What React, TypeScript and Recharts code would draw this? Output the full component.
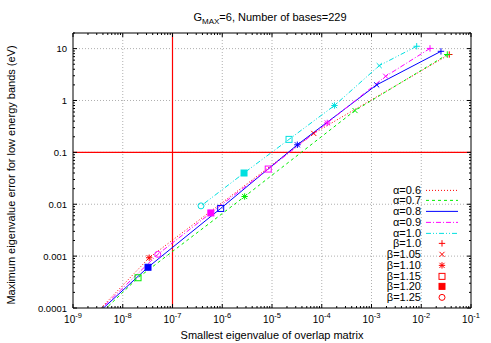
import { Legend, Line, LineChart, ReferenceLine, XAxis, YAxis } from 'recharts';

const BETAS = ['1.0', '1.05', '1.10', '1.15', '1.20', '1.25'];
const ALPHAS = ['0.6', '0.7', '0.8', '0.9', '1.0'];

// smallest overlap eigenvalue / max error, beta ascending; a trailing extra point is where the curve leaves the plot
const EIG_A06 = [3.66e-2, 6.9e-5, 3.4e-8, 3.66e-9];
const ERR_A06 = [7.7, 0.232, 9.3e-4, 1e-4];
const EIG_A07 = [3.34e-2, 4.66e-4, 2.82e-6, 2.03e-8, 4.7e-9];
const ERR_A07 = [7.7, 0.64, 0.0141, 3.83e-4, 1e-4];
const EIG_A08 = [2.49e-2, 1.27e-3, 3.23e-5, 9.3e-7, 3.22e-8, 4.1e-9];
const ERR_A08 = [8.87, 2.0, 0.14, 8.3e-3, 6.1e-4, 1e-4];
const EIG_A09 = [1.5e-2, 1.93e-3, 1.29e-4, 8.4e-6, 5.9e-7, 5.05e-8, 3.83e-9];
const ERR_A09 = [10.1, 2.93, 0.369, 0.0477, 6.8e-3, 1.08e-3, 1e-4];
const EIG_A10 = [8.1e-3, 1.43e-3, 1.8e-4, 2.2e-5, 2.74e-6, 3.74e-7];
const ERR_A10 = [11.1, 4.7, 0.8, 0.178, 0.04, 9.3e-3];
const MARKED = [3, 4, 5, 6, 6];

const X_MAJOR = [1e-9, 1e-8, 1e-7, 1e-6, 1e-5, 1e-4, 1e-3, 1e-2, 1e-1];
const Y_MAJOR = [1e-4, 1e-3, 1e-2, 1e-1, 1, 10];
const Y_LABELS = ['0.0001', '0.001', '0.01', '0.1', '1', '10'];
const X_LIMIT = 1e-7;
const Y_LIMIT = 0.1;

const COLORS = ['#ff0000', '#00ee00', '#0000ff', '#ff00ff', '#00e0e0'];
const DASHES = ['1 2', '3 3', undefined, '5 2 1 2', '5 2 1 2 1 2'];

const minors = (majors: number[], top: number) =>
  majors.flatMap((d) => [2, 3, 4, 5, 6, 7, 8, 9].map((m) => d * m)).filter((v) => v <= top * 1.0001);
const X_TICKS = [...X_MAJOR, ...minors(X_MAJOR, 1e-1)];
const Y_TICKS = [...Y_MAJOR, ...minors(Y_MAJOR, 20)];

const isMajor = (v: number) => Math.abs(Math.log10(v) - Math.round(Math.log10(v))) < 1e-6;

const series = [EIG_A06, EIG_A07, EIG_A08, EIG_A09, EIG_A10].map((eig, s) => {
  const err = [ERR_A06, ERR_A07, ERR_A08, ERR_A09, ERR_A10][s];
  return eig.map((x, i) => ({ x, y: err[i] }));
});

const Marker = ({ kind, x, y, color }: { kind: number; x: number; y: number; color: string }) => {
  const s = 3.2;
  const plus = (
    <>
      <line x1={x - s} x2={x + s} y1={y} y2={y} />
      <line x1={x} x2={x} y1={y - s} y2={y + s} />
    </>
  );
  const cross = (
    <>
      <line x1={x - s * 0.8} x2={x + s * 0.8} y1={y - s * 0.8} y2={y + s * 0.8} />
      <line x1={x - s * 0.8} x2={x + s * 0.8} y1={y + s * 0.8} y2={y - s * 0.8} />
    </>
  );
  if (kind === 0) return <g stroke={color}>{plus}</g>;
  if (kind === 1) return <g stroke={color}>{cross}</g>;
  if (kind === 2) return <g stroke={color}>{plus}{cross}</g>;
  if (kind === 3) return <rect x={x - 3} y={y - 3} width={6} height={6} fill="none" stroke={color} />;
  if (kind === 4) return <rect x={x - 3} y={y - 3} width={6} height={6} fill={color} stroke={color} />;
  return <circle cx={x} cy={y} r={3} fill="none" stroke={color} />;
};

const makeDot = (marked: number, color: string) => (props: any) => {
  const { cx, cy, index } = props;
  if (index >= marked || cx == null || cy == null) return <g key={`d${index}`} />;
  return <Marker key={`d${index}`} kind={index} x={cx} y={cy} color={color} />;
};

const tickLen = (v: number) => (isMajor(v) ? 4 : 2);

const BottomTick = ({ x, y, payload }: any) => {
  const v = payload.value;
  return (
    <g>
      <line x1={x} x2={x} y1={y} y2={y - tickLen(v)} stroke="#000" />
      {isMajor(v) && (
        <text x={x} y={y + 15} textAnchor="middle" fontSize={10} fill="#000">
          10<tspan dy={-5} fontSize={7.5}>{Math.round(Math.log10(v))}</tspan>
        </text>
      )}
    </g>
  );
};

const TopTick = ({ x, y, payload }: any) => (
  <line x1={x} x2={x} y1={y} y2={y + tickLen(payload.value)} stroke="#000" />
);

const LeftTick = ({ x, y, payload }: any) => {
  const v = payload.value;
  const idx = Y_MAJOR.findIndex((m) => Math.abs(Math.log10(m) - Math.log10(v)) < 1e-6);
  return (
    <g>
      <line x1={x} x2={x + tickLen(v)} y1={y} y2={y} stroke="#000" />
      {idx >= 0 && (
        <text x={x - 6} y={y + 3.5} textAnchor="end" fontSize={9.5} fill="#000">
          {Y_LABELS[idx]}
        </text>
      )}
    </g>
  );
};

const RightTick = ({ x, y, payload }: any) => (
  <line x1={x} x2={x - tickLen(payload.value)} y1={y} y2={y} stroke="#000" />
);

const ROW = 10.75;

const LegendRow = ({ label, children }: { label: string; children: any }) => (
  <div style={{ display: 'flex', alignItems: 'center', height: ROW }}>
    <span style={{ width: 61, textAlign: 'right', fontSize: 11, lineHeight: `${ROW}px` }}>{label}</span>
    <svg width={45} height={ROW} style={{ display: 'block' }}>
      {children}
    </svg>
  </div>
);

const LegendBox = () => (
  <div>
    {ALPHAS.map((a, i) => (
      <LegendRow key={a} label={`α=${a}`}>
        <line x1={5} x2={37} y1={ROW / 2} y2={ROW / 2} stroke={COLORS[i]} strokeDasharray={DASHES[i]} />
      </LegendRow>
    ))}
    {BETAS.map((b, i) => (
      <LegendRow key={b} label={`β=${b}`}>
        <Marker kind={i} x={21} y={ROW / 2} color="#ff0000" />
      </LegendRow>
    ))}
  </div>
);

const grid = { stroke: '#b0b0b0', strokeDasharray: '1 2', strokeWidth: 1 };

export default function App() {
  return (
    <div
      style={{
        position: 'absolute',
        left: 0,
        top: 0,
        width: 491,
        height: 343,
        background: '#fff',
        fontFamily: '"Liberation Sans", Arial, sans-serif',
      }}
    >
      <LineChart width={491} height={343} margin={{ top: 32, right: 19, bottom: 34, left: 72 }}>
        <XAxis
          xAxisId="b"
          dataKey="x"
          type="number"
          scale="log"
          domain={[1e-9, 1e-1]}
          allowDataOverflow
          ticks={X_TICKS}
          interval={0}
          height={1}
          tickSize={0}
          tickMargin={0}
          tickLine={false}
          axisLine={{ stroke: '#000' }}
          tick={BottomTick}
        />
        <XAxis
          xAxisId="t"
          orientation="top"
          dataKey="x"
          type="number"
          scale="log"
          domain={[1e-9, 1e-1]}
          allowDataOverflow
          ticks={X_TICKS}
          interval={0}
          height={1}
          tickSize={0}
          tickMargin={0}
          tickLine={false}
          axisLine={{ stroke: '#000' }}
          tick={TopTick}
        />
        <YAxis
          yAxisId="l"
          type="number"
          scale="log"
          domain={[1e-4, 20]}
          allowDataOverflow
          ticks={Y_TICKS}
          interval={0}
          width={1}
          tickSize={0}
          tickMargin={0}
          tickLine={false}
          axisLine={{ stroke: '#000' }}
          tick={LeftTick}
        />
        <YAxis
          yAxisId="r"
          orientation="right"
          type="number"
          scale="log"
          domain={[1e-4, 20]}
          allowDataOverflow
          ticks={Y_TICKS}
          interval={0}
          width={1}
          tickSize={0}
          tickMargin={0}
          tickLine={false}
          axisLine={{ stroke: '#000' }}
          tick={RightTick}
        />
        {X_MAJOR.slice(1, -1).map((v) => (
          <ReferenceLine key={`gx${v}`} xAxisId="b" yAxisId="l" x={v} {...grid} />
        ))}
        {Y_MAJOR.slice(1).map((v) => (
          <ReferenceLine key={`gy${v}`} xAxisId="b" yAxisId="l" y={v} {...grid} />
        ))}
        <ReferenceLine xAxisId="b" yAxisId="l" x={X_LIMIT} stroke="#ff0000" strokeWidth={1.2} />
        <ReferenceLine xAxisId="b" yAxisId="l" y={Y_LIMIT} stroke="#ff0000" strokeWidth={1.2} />
        {series.map((data, s) => (
          <Line
            key={ALPHAS[s]}
            xAxisId="b"
            yAxisId="l"
            data={data}
            dataKey="y"
            name={`α=${ALPHAS[s]}`}
            stroke={COLORS[s]}
            strokeWidth={1}
            strokeDasharray={DASHES[s]}
            dot={makeDot(MARKED[s], COLORS[s])}
            activeDot={false}
            isAnimationActive={false}
          />
        ))}
        <Legend
          layout="vertical"
          align="center"
          verticalAlign="middle"
          content={<LegendBox />}
          wrapperStyle={{ left: 360, top: 184.6, width: 110, margin: 0 }}
        />
      </LineChart>
      <svg
        width={491}
        height={343}
        style={{ position: 'absolute', left: 0, top: 0, pointerEvents: 'none' }}
      >
        <text x={270} y={20.7} textAnchor="middle" fontSize={11} fill="#000">
          G<tspan fontSize={8} dy={3}>MAX</tspan>
          <tspan dy={-3}>=6, Number of bases=229</tspan>
        </text>
        <text x={272} y={339} textAnchor="middle" fontSize={11} fill="#000">
          Smallest eigenvalue of overlap matrix
        </text>
        <text transform="translate(15.3,175) rotate(-90)" textAnchor="middle" fontSize={11} fill="#000">
          Maximum eigenvalue error for low energy bands (eV)
        </text>
      </svg>
    </div>
  );
}
